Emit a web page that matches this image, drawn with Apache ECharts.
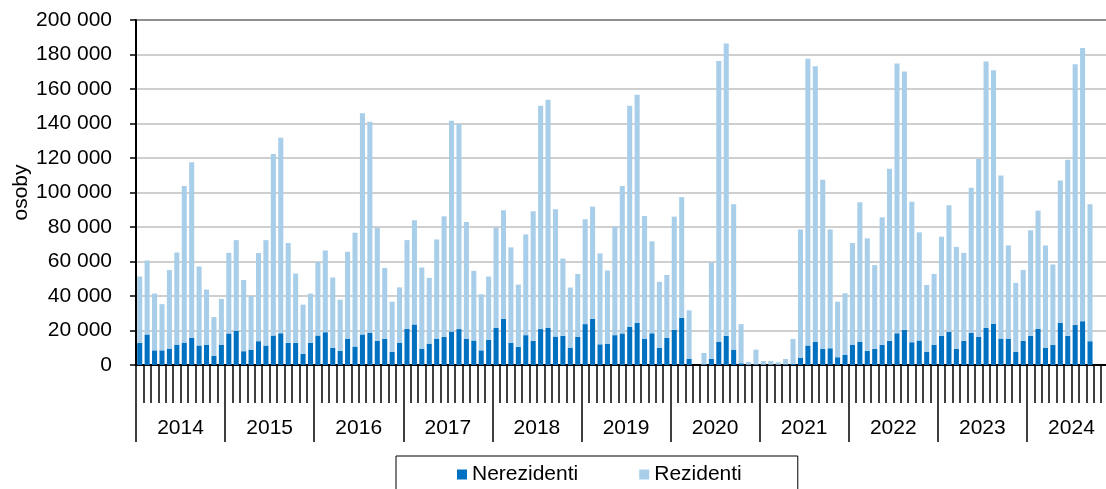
<!DOCTYPE html>
<html>
<head>
<meta charset="utf-8">
<script src="https://cdn.jsdelivr.net/npm/echarts@6/dist/echarts.min.js"></script>
<style>
  html, body { margin: 0; padding: 0; background: #fff; }
  #chart { width: 1106px; height: 489px; }
</style>
</head>
<body>
<div id="chart"></div>
<script>
var years = ['2014','2015','2016','2017','2018','2019','2020','2021','2022','2023','2024'];
var months = ['01','02','03','04','05','06','07','08','09','10','11','12'];

// nerezidenti (osoby), po mesiacoch
var nerezidenti = [
  12800,17700,8500,8500,9500,11800,13000,15700,11300,11800,5400,11800,
  18300,19800,8000,8900,13800,11300,17100,18400,12800,12800,6400,12800,
  17100,19000,9900,8200,15300,10700,17700,18800,14000,15100,7600,13000,
  21000,23500,9500,12400,15300,16300,19400,20800,15300,14200,8500,14600,
  21600,26800,12800,10500,17300,14000,20800,21600,16500,16900,10100,16300,
  23700,26800,12000,12200,17300,18300,22100,24500,15300,18400,9900,15700,
  20400,27400,3500,0,300,3500,13400,16900,8700,1000,200,300,
  200,200,200,300,600,4100,11300,13400,9300,9700,4500,6000,
  11800,13400,8200,9300,11700,14000,18400,20400,13200,14200,7600,11700,
  16900,19200,9300,14000,18600,16300,21600,23900,15300,15300,7600,14000,
  16900,21000,10100,11700,24500,16900,23300,25400,13800,null,null,null
];

// rezidenti (osoby)
var rezidenti = [
  38500,42900,32900,26800,45500,53400,90700,101800,45800,31900,22400,26500,
  46700,52600,41300,31100,51100,61100,105200,113300,57900,40200,28600,28600,
  42700,47400,40800,29700,50300,66000,128300,122200,65600,41200,29100,32000,
  51400,60400,47000,38100,57500,69900,122200,119000,67600,40400,32500,36700,
  58000,62900,55400,36100,58400,75100,129500,132200,73800,44800,34800,36500,
  60800,65000,52700,42600,63100,85400,128200,132200,71100,53300,38300,36500,
  65600,69900,28200,0,6700,55900,162900,169500,84500,22700,1500,8600,
  2100,2100,1400,3200,14500,74500,166200,159800,98100,68900,32200,35600,
  58900,81000,65200,48600,73900,99800,156400,149700,81400,62700,38800,41100,
  57500,73400,59200,51000,84100,103100,154300,147000,94600,54000,40000,41100,
  61200,68500,59200,46600,82500,102100,151100,158300,79400,null,null,null
];

var categories = [];
years.forEach(function (y) {
  months.forEach(function (m) { categories.push(m + '/' + y); });
});

var font = '"Liberation Sans", Arial, sans-serif';

var myChart = echarts.init(document.getElementById('chart'));

var option = {
    animation: false,
    textStyle: { fontFamily: font },
    grid: {
        left: 136,
        right: -10,
        top: 20,
        bottom: 124,
        containLabel: false,
        outerBoundsMode: 'none',
        show: true,
        borderColor: '#000',
        borderWidth: 2
    },
    legend: {
        left: 396,
        top: 456,
        padding: [8, 56, 30, 61],
        borderColor: '#000',
        borderWidth: 1,
        itemGap: 61,
        itemWidth: 10,
        itemHeight: 10,
        icon: 'rect',
        textStyle: { fontSize: 21, color: '#000', fontFamily: font },
        data: ['Nerezidenti', 'Rezidenti']
    },
    xAxis: [
        {
            type: 'category',
            position: 'bottom',
            data: categories,
            axisLine: { show: true, lineStyle: { color: '#000', width: 2 } },
            axisTick: { show: true, interval: 0, length: 38, lineStyle: { color: '#000', width: 1.5 } },
            axisLabel: { show: false, interval: 0 },
            splitLine: { show: false }
        },
        {
            type: 'category',
            position: 'bottom',
            data: years,
            axisLine: { show: false },
            axisTick: { show: true, interval: 0, length: 77, lineStyle: { color: '#000', width: 1.5 } },
            axisLabel: { interval: 0, margin: 53, fontSize: 21, color: '#000', fontFamily: font },
            splitLine: { show: false }
        }
    ],
    yAxis: {
        type: 'value',
        min: 0,
        max: 200000,
        interval: 20000,
        name: 'osoby',
        nameLocation: 'middle',
        nameGap: 104,
        nameMoveOverlap: false,
        nameTextStyle: { fontSize: 21, color: '#000', fontFamily: font },
        axisLine: { show: true, lineStyle: { color: '#000', width: 2 } },
        axisTick: { show: true, length: 6, lineStyle: { color: '#000', width: 1.5 } },
        axisLabel: {
            margin: 24,
            fontSize: 21,
            color: '#000',
            fontFamily: font,
            formatter: function (v) {
                return String(v).replace(/\B(?=(\d{3})+(?!\d))/g, ' ');
            }
        },
        splitLine: { lineStyle: { color: '#BFBFBF', width: 1.5 } }
    },
    series: [
        {
            name: 'Nerezidenti',
            type: 'bar',
            stack: 'spolu',
            xAxisIndex: 0,
            barCategoryGap: '32%',
            itemStyle: { color: '#0070C0' },
            data: nerezidenti
        },
        {
            name: 'Rezidenti',
            type: 'bar',
            stack: 'spolu',
            xAxisIndex: 0,
            barCategoryGap: '32%',
            itemStyle: { color: '#A9CEE9' },
            data: rezidenti
        }
    ]
};

myChart.setOption(option);
</script>
</body>
</html>
